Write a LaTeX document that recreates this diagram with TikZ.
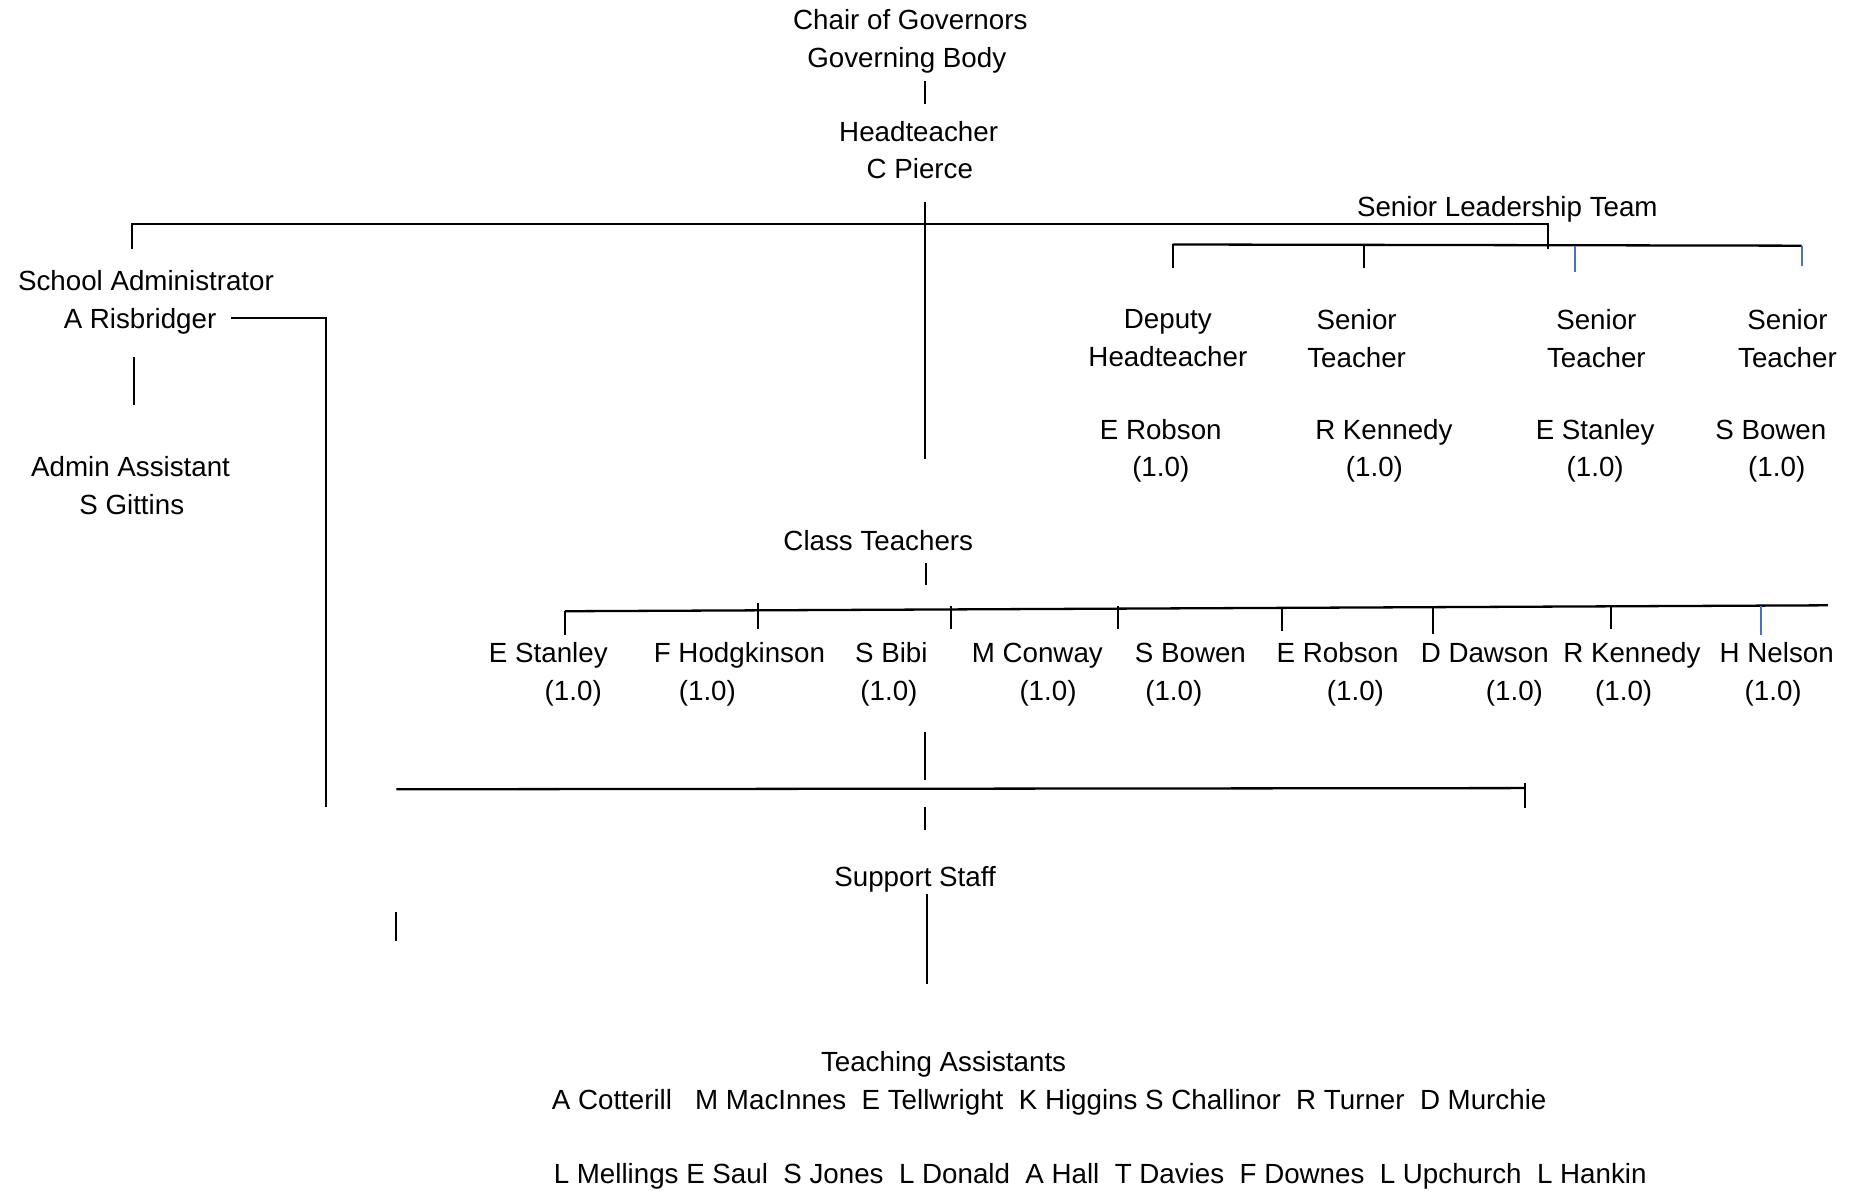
\documentclass[tikz,border=0pt]{standalone}
\usepackage{fontspec}
\setmainfont{Liberation Sans}
\usetikzlibrary{positioning}
\definecolor{tickblue}{RGB}{68,114,196}
\tikzset{
  lbltwo/.style={inner sep=0pt,align=center,font=\fontsize{13.3}{18.2}\selectfont},
  lbl/.style={lbltwo,text height=1.55ex,text depth=.45ex,yshift=-0.06cm},
  bar/.style={line width=1.1pt},
  tick/.style={line width=1pt},
  bluetick/.style={tick,draw=tickblue}
}
\begin{document}
\begin{tikzpicture}[x=0.02cm,y=-0.02cm]
\useasboundingbox (0,0) rectangle (1568,1004);

\node[lbl](chair) at (767,17){Chair of Governors};
\node[lbl](gov) at (764,49){Governing Body};
\node[lbl](head) at (774,111){Headteacher};
\node[lbl](pierce) at (775,142){C Pierce};
\node[lbl](slt) at (1270,174){Senior Leadership Team};
\node[lbl](admin) at (123,237){School Administrator};
\node[lbl](risb) at (118,269){A Risbridger};
\node[lbl](asst) at (110,393){Admin Assistant};
\node[lbl](gitt) at (111,425){S Gittins};
\node[lbl](class) at (740,456){Class Teachers};
\node[lbl](support) at (771,739){Support Staff};
\node[lbl](ta) at (795,895){Teaching Assistants};
\node[lbl](tarowa) at (884,927){A Cotterill~~~M MacInnes~~E Tellwright~~K Higgins S Challinor~~R Turner~~D Murchie};
\node[lbl](tarowb) at (927,989){L Mellings E Saul~~S Jones~~L Donald~~A Hall~~T Davies~~F Downes~~L Upchurch~~L Hankin};

\foreach \i/\rx/\nx/\fx/\role/\who in {1/984/978/978/{Deputy\\Headteacher}/E Robson,
  2/1143/1166/1158/{Senior\\Teacher}/R Kennedy,
  3/1345/1344/1344/{Senior\\Teacher}/E Stanley,
  4/1506/1492/1497/{Senior\\Teacher}/S Bowen}{
  \node[lbltwo](role\i) at (\rx,285){\role};
  \node[lbl](sname\i) at (\nx,362){\who};
  \node[lbl](sfte\i) at (\fx,393){(1.0)};
}

\foreach \i/\nx/\fx/\who in {1/462/483/E Stanley,2/623/596/F Hodgkinson,3/751/749/S Bibi,
  4/874/883/M Conway,5/1003/989/S Bowen,6/1127/1142/E Robson,7/1251/1276/D Dawson,
  8/1375/1368/R Kennedy,9/1497/1494/H Nelson}{
  \node[lbl](cname\i) at (\nx,550){\who};
  \node[lbl](cfte\i) at (\fx,582){(1.0)};
}

\coordinate(govdrop) at (779,68);
\coordinate(headdrop) at (779,170);
\coordinate(headend) at (779,387);
\coordinate(barL) at (111,189);
\coordinate(barR) at (1304,189);
\coordinate(sltL) at (988,206);
\coordinate(sltR) at (1518,207);
\coordinate(risbstart) at (195,268);
\coordinate(risbcorner) at (275,268);
\coordinate(risbend) at (275,680);
\coordinate(ctL) at (476,515);
\coordinate(ctR) at (1540,510);
\coordinate(ssL) at (334,665);
\coordinate(ssR) at (1285,664);

\draw[tick](govdrop)--++(0,20);
\draw[tick](headdrop)--(headend);
\draw[bar](barL)++(0,21)--(barL)--(barR)--++(0,21);
\draw[bar](sltL)--(sltR);
\draw[tick](sltL)--++(0,20);
\draw[tick](1149,206)--++(0,20);
\draw[bluetick](1327,207)--++(0,22);
\draw[bluetick](sltR)--++(0,17);
\draw[tick](risbstart)--(risbcorner)--(risbend);
\draw[tick](113,301)--++(0,40);

\draw[tick](780,474)--++(0,19);
\draw[bar](ctL)--(ctR);
\draw[tick](ctL)--++(0,20);
\foreach \x/\ya/\yb in {639/508/530,801/511/530,942/511/530,1080/512/532,1207/511/534,1357/511/530}
  \draw[tick](\x,\ya)--(\x,\yb);
\draw[bluetick](1484,511)--(1484,535);

\draw[tick](779,617)--++(0,40);
\draw[bar](ssL)--(ssR);
\draw[tick](1285,660)--++(0,21);
\draw[tick](779,680)--++(0,19);
\draw[tick](781,753)--++(0,76);
\draw[tick](334,768)--++(0,25);
\end{tikzpicture}
\end{document}
